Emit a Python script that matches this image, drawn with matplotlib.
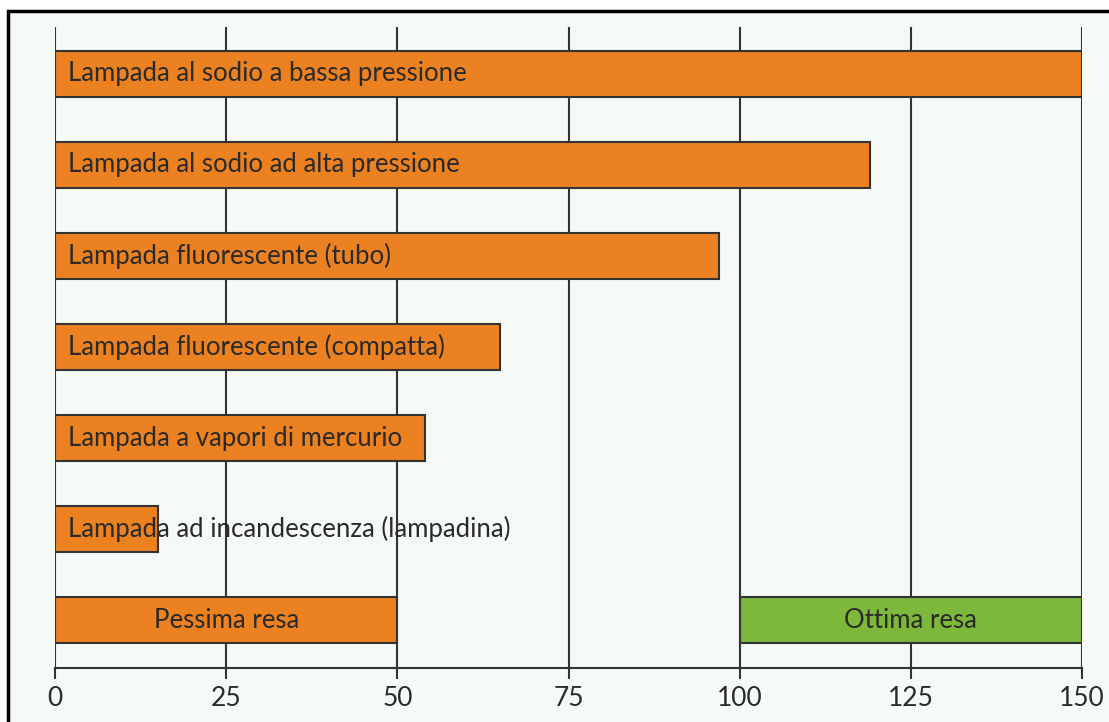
import matplotlib.pyplot as plt
from matplotlib.patches import Rectangle

lamps = [
    "Lampada al sodio a bassa pressione",
    "Lampada al sodio ad alta pressione",
    "Lampada fluorescente (tubo)",
    "Lampada fluorescente (compatta)",
    "Lampada a vapori di mercurio",
    "Lampada ad incandescenza (lampadina)",
]
resa = [150, 119, 97, 65, 54, 15]

scale_labels = ["Pessima resa", "Ottima resa"]
scale_start = [0, 100]
scale_end = [50, 150]

ticks = [0, 25, 50, 75, 100, 125, 150]

ORANGE = "#ec8121"
GREEN = "#7db83a"
EDGE = "#333333"
TEXT = "#2a2a2a"

plt.rcParams["font.family"] = ["Lato", "DejaVu Sans"]

fig = plt.figure(figsize=(11.09, 7.22), dpi=100, facecolor="white")

# framed panel behind the chart
frame = Rectangle((8 / 1109, -0.05), 1.1, (722 - 11) / 722 + 0.05,
                  transform=fig.transFigure, facecolor="#f5faf7",
                  edgecolor="black", linewidth=2.5, zorder=-10)
fig.patches.append(frame)

ax = fig.add_axes([55 / 1109, 54 / 722, 1027 / 1109, 641 / 722])
ax.set_facecolor("none")
ax.set_zorder(1)

ypos = list(range(len(lamps)))
ax.barh(ypos, resa, height=0.5, color=ORANGE, edgecolor=EDGE, linewidth=1.5, zorder=3)
for y, name in zip(ypos, lamps):
    ax.annotate(name, (0, y), xytext=(9.5, 0), textcoords="offset points",
                ha="left", va="center", fontsize=18.5, color=TEXT, zorder=4)

y_scale = len(lamps)
colors = [ORANGE, GREEN]
for lab, s, e, c in zip(scale_labels, scale_start, scale_end, colors):
    ax.barh(y_scale, e - s, left=s, height=0.5, color=c, edgecolor=EDGE,
            linewidth=1.5, zorder=3)
    ax.text((s + e) / 2, y_scale, lab, ha="center", va="center",
            fontsize=18.5, color=TEXT, zorder=4)

for t in ticks:
    ax.axvline(t, color=EDGE, linewidth=1.5, zorder=1)

ax.set_xlim(0, 150)
ax.set_ylim(6.527, -0.516)
ax.set_xticks(ticks)
ax.set_xticklabels([str(t) for t in ticks])
ax.set_yticks([])
ax.tick_params(axis="x", length=8, width=1.5, color=EDGE, labelsize=19,
               labelcolor=TEXT, pad=5)
for side in ["left", "right", "top"]:
    ax.spines[side].set_visible(False)
ax.spines["bottom"].set_color(EDGE)
ax.spines["bottom"].set_linewidth(1.5)

fig.savefig("out.png", dpi=100, facecolor="white")
